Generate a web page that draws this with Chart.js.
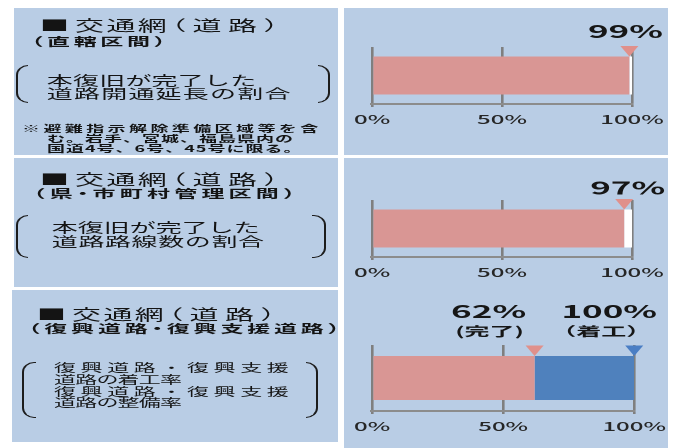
<!DOCTYPE html>
<html lang="ja">
<head>
<meta charset="utf-8">
<script src="https://cdn.jsdelivr.net/npm/chart.js@4.4.1/dist/chart.umd.min.js"></script>
<style>
  html, body { margin: 0; padding: 0; background: #ffffff; }
  body { width: 675px; height: 448px; overflow: hidden; position: relative; }
  /* the whole board is laid out at half width and stretched 2x horizontally */
  #board { position: absolute; left: 0; top: 0; width: 337.5px; height: 448px;
           transform: scaleX(2); transform-origin: 0 0; }
  .panel { position: absolute; background: #b9cde5; }
  .t { position: absolute; white-space: nowrap; line-height: 1; color: #141414;
       font-family: 'Noto Sans CJK JP', sans-serif; }
  .sub { font-weight: bold; font-feature-settings: "halt"; }
  .note { font-weight: bold; }
  .br { position: absolute; border: 1.3px solid #1c1c1c; box-sizing: border-box; }
  .br.l { border-right: none; border-radius: 6px 0 0 6px / 10px 0 0 10px; }
  .br.r { border-left: none; border-radius: 0 6px 6px 0 / 0 10px 10px 0; }
  .pg { margin-left: -6px; letter-spacing: 3.2px; }
  canvas { position: absolute; }
</style>
</head>
<body>
<div id="board">
  <div class="panel" style="left:6.5px;top:8px;width:162px;height:147px"></div>
  <div class="panel" style="left:171.5px;top:8px;width:162.5px;height:147px"></div>
  <div class="panel" style="left:6.5px;top:158px;width:162px;height:129px"></div>
  <div class="panel" style="left:6px;top:290px;width:162.5px;height:152px"></div>
  <div class="panel" style="left:171.5px;top:158px;width:162.5px;height:290px"></div>

  <!-- 直轄区間 -->
  <div class="t" style="left:20px;top:18px;font-size:14.5px;letter-spacing:1.2px"><span style="margin-right:3px;letter-spacing:0">■</span>交通網<span class="pg">（道路）</span></div>
  <div class="t sub" style="left:16px;top:36px;font-size:11.5px;letter-spacing:1.8px">（直轄区間）</div>
  <div class="br l" style="left:7.5px;top:65px;width:6.5px;height:38px"></div>
  <div class="br r" style="left:158.5px;top:65px;width:6.5px;height:38px"></div>
  <div class="t" style="left:23.4px;top:72.5px;font-size:13px;letter-spacing:0.1px">本復旧が完了した</div>
  <div class="t" style="left:23.4px;top:85.5px;font-size:13px;letter-spacing:0.6px">道路開通延長の割合</div>
  <div class="t note" style="left:11px;top:124px;font-size:9px;letter-spacing:1.7px">※避難指示解除準備区域等を含</div>
  <div class="t note" style="left:23.5px;top:134px;font-size:9px;letter-spacing:0.5px">む。岩手、宮城、福島県内の</div>
  <div class="t note" style="left:23.5px;top:144px;font-size:9px;letter-spacing:0.5px">国道4号、6号、45号に限る。</div>

  <!-- 県・市町村管理区間 -->
  <div class="t" style="left:20px;top:172px;font-size:14.5px;letter-spacing:1.2px"><span style="margin-right:3px;letter-spacing:0">■</span>交通網<span class="pg">（道路）</span></div>
  <div class="t sub" style="left:17px;top:188px;font-size:11.5px;letter-spacing:2.1px">（県・市町村管理区間）</div>
  <div class="br l" style="left:7.5px;top:215px;width:6.5px;height:43px"></div>
  <div class="br r" style="left:156px;top:215px;width:6.5px;height:43px"></div>
  <div class="t" style="left:25.9px;top:219.7px;font-size:13px;letter-spacing:0px">本復旧が完了した</div>
  <div class="t" style="left:25.9px;top:233.7px;font-size:13px;letter-spacing:0.3px">道路路線数の割合</div>

  <!-- 復興道路・復興支援道路 -->
  <div class="t" style="left:18.5px;top:307px;font-size:14.5px;letter-spacing:1.2px"><span style="margin-right:3px;letter-spacing:0">■</span>交通網<span class="pg">（道路）</span></div>
  <div class="t sub" style="left:14.5px;top:323px;font-size:11.5px;letter-spacing:1.9px">（復興道路・復興支援道路）</div>
  <div class="br l" style="left:11px;top:362px;width:6.5px;height:56px"></div>
  <div class="br r" style="left:152.5px;top:362px;width:6.5px;height:56px"></div>
  <div class="t" style="left:27px;top:361.5px;font-size:11px;letter-spacing:2.3px">復興道路・復興支援</div>
  <div class="t" style="left:27px;top:373.5px;font-size:11px;letter-spacing:-0.4px">道路の着工率</div>
  <div class="t" style="left:27px;top:385.5px;font-size:11px;letter-spacing:2.3px">復興道路・復興支援</div>
  <div class="t" style="left:27px;top:397px;font-size:11px;letter-spacing:-0.4px">道路の整備率</div>

  <canvas id="c0"></canvas>
  <canvas id="c1"></canvas>
  <canvas id="c2"></canvas>
</div>

<script>
// axis tick labels
const tickLabels = ['0%', '50%', '100%'];
// completed share (完了) per panel: 直轄区間, 県・市町村管理区間, 復興道路・復興支援道路
const doneRate = [99, 97, 62];
// construction-started share (着工); only tracked for the reconstruction roads
const startRate = [null, null, 100];
// notes printed under the value labels
const doneNote = [null, null, '(完了)'];
const startNote = [null, null, '（着工）'];

const PINK = '#d99694';
const PINK_MARK = '#e0908b';
const BLUE = '#4f81bd';
const BLUE_MARK = '#4a7ec4';
const GRID = '#7f7f7f';
const INK = '#161616';
const FONT = "'Noto Sans CJK JP', sans-serif";

Chart.defaults.font.family = FONT;

// canvas boxes and plot areas (board coordinates, before the 2x stretch)
const layoutBoxes = [
  { top: 8,   height: 147, areaTop: 47,  areaBottom: 104, areaLeft: 183.5, areaRight: 315.5 },
  { top: 158, height: 129, areaTop: 200, areaBottom: 257, areaLeft: 183.5, areaRight: 315.5 },
  { top: 290, height: 158, areaTop: 345, areaBottom: 411, areaLeft: 183.5, areaRight: 318.5 }
];
const CANVAS_LEFT = 171.5;
const CANVAS_WIDTH = 166;

// label placement relative to the marker tip (x) and bar top (y)
const labelPlace = [
  [{ dx: -2,    dy: -25 }],
  [{ dx: 1.75,  dy: -21.5 }],
  [{ dx: -23,   dy: -44.5, ndx: -22.5, ndy: -24.5 },
   { dx: -12.5, dy: -44.5, ndx: -16.5, ndy: -24.5 }]
];

// down-pointing triangles on top of the bar with value labels above
const markerPlugin = {
  id: 'valueMarkers',
  afterDatasetsDraw(chart, args, opts) {
    const ctx = chart.ctx;
    const xs = chart.scales.x;
    const bar = chart.getDatasetMeta(0).data[0];
    const barTop = bar.y - bar.height / 2;
    ctx.save();
    opts.items.forEach(m => {
      const px = xs.getPixelForValue(m.value);
      ctx.fillStyle = m.color;
      ctx.beginPath();
      ctx.moveTo(px - 4.5, barTop - 10.5);
      ctx.lineTo(px + 4.5, barTop - 10.5);
      ctx.lineTo(px, barTop);
      ctx.closePath();
      ctx.fill();

      ctx.fillStyle = INK;
      ctx.textAlign = 'center';
      ctx.textBaseline = 'middle';
      ctx.font = 'bold 17.5px ' + FONT;
      ctx.fillText(m.value + '%', px + m.dx, barTop + m.dy);
      if (m.note) {
        ctx.font = 'bold 12.5px ' + FONT;
        ctx.fillText(m.note, px + m.ndx, barTop + m.ndy);
      }
    });
    ctx.restore();
  }
};

function buildChart(i) {
  const box = layoutBoxes[i];
  const canvas = document.getElementById('c' + i);
  canvas.style.left = CANVAS_LEFT + 'px';
  canvas.style.top = box.top + 'px';

  const hasStart = startRate[i] !== null;
  const restValue = (hasStart ? startRate[i] : 100) - doneRate[i];

  const items = [{ value: doneRate[i], color: PINK_MARK, note: doneNote[i], ...labelPlace[i][0] }];
  if (hasStart) {
    items.push({ value: startRate[i], color: BLUE_MARK, note: startNote[i], ...labelPlace[i][1] });
  }

  const axisHeight = box.top + box.height - box.areaBottom;

  return new Chart(canvas, {
    type: 'bar',
    data: {
      labels: [''],
      datasets: [
        { data: [doneRate[i]], backgroundColor: PINK },
        { data: [restValue], backgroundColor: hasStart ? BLUE : '#ffffff' }
      ]
    },
    options: {
      indexAxis: 'y',
      responsive: false,
      animation: false,
      devicePixelRatio: 2,
      layout: {
        padding: {
          left: box.areaLeft - CANVAS_LEFT,
          right: CANVAS_LEFT + CANVAS_WIDTH - box.areaRight,
          top: box.areaTop - box.top,
          bottom: 0
        }
      },
      datasets: { bar: { barPercentage: 1, categoryPercentage: 0.667, borderWidth: 0 } },
      scales: {
        x: {
          stacked: true,
          min: 0,
          max: 100,
          afterFit: s => { s.height = axisHeight; },
          ticks: {
            stepSize: 50,
            maxRotation: 0,
            autoSkip: false,
            padding: 5,
            color: '#262626',
            font: { size: 12, weight: '500' },
            callback: (v, idx) => tickLabels[idx]
          },
          grid: { color: GRID, lineWidth: 1.3, tickLength: 3, drawTicks: true },
          border: { display: true, color: '#8c8c8c', width: 2 }
        },
        y: { stacked: true, display: false }
      },
      plugins: {
        legend: { display: false },
        tooltip: { enabled: false },
        valueMarkers: { items }
      }
    },
    plugins: [markerPlugin]
  });
}

[0, 1, 2].forEach(i => {
  const c = document.getElementById('c' + i);
  c.width = CANVAS_WIDTH;
  c.height = layoutBoxes[i].height;
  c.style.width = CANVAS_WIDTH + 'px';
  c.style.height = layoutBoxes[i].height + 'px';
  buildChart(i);
});
</script>
</body>
</html>
